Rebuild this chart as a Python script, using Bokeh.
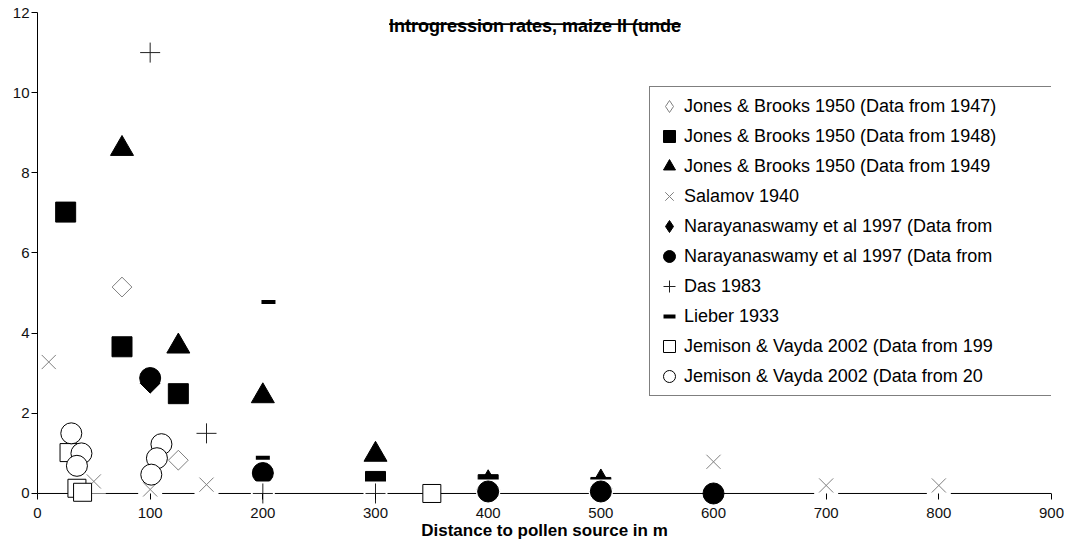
import numpy as np
from bokeh.plotting import figure
from bokeh.models import (Range1d, LinearAxis, FixedTicker, Legend, LegendItem,
                          Label, Span, BoxAnnotation)
from bokeh.embed import file_html
from bokeh.resources import INLINE

# ---------------- data ----------------
title_text = "Introgression rates, maize II (unde"
x_label = "Distance to pollen source in m"
x_ticks = [0, 100, 200, 300, 400, 500, 600, 700, 800, 900]
y_ticks = [0, 2, 4, 6, 8, 10, 12]

names = [
    "Jones & Brooks 1950 (Data from 1947)",
    "Jones & Brooks 1950 (Data from 1948)",
    "Jones & Brooks 1950 (Data from 1949",
    "Salamov 1940",
    "Narayanaswamy et al 1997 (Data from",
    "Narayanaswamy et al 1997 (Data from",
    "Das 1983",
    "Lieber 1933",
    "Jemison & Vayda 2002 (Data from 199",
    "Jemison & Vayda 2002 (Data from 20",
]

jb47_x = [75, 125]
jb47_y = [5.15, 0.83]
jb48_x = [25, 75, 125, 300, 400, 500]
jb48_y = [7.02, 3.66, 2.49, 0.30, 0.22, 0.15]
jb49_x = [75, 125, 200, 300, 400, 500]
jb49_y = [8.60, 3.67, 2.43, 0.97, 0.26, 0.28]
sal_x = [10, 50, 100, 150, 200, 400, 500, 600, 700, 800]
sal_y = [3.28, 0.30, 0.10, 0.22, 0.50, 0.05, 0.05, 0.79, 0.20, 0.20]
nar_d_x = [100, 200, 400, 500, 600]
nar_d_y = [2.75, 0.50, 0.05, 0.05, 0.00]
nar_c_x = [100, 200, 400, 500, 600]
nar_c_y = [2.88, 0.51, 0.05, 0.05, 0.00]
das_x = [100, 150, 200, 300]
das_y = [11.0, 1.5, 0.0, 0.0]
lie_x = [205, 200]
lie_y = [4.78, 0.89]
jv1_x = [28, 35, 40, 350]
jv1_y = [1.02, 0.13, 0.03, 0.00]
jv2_x = [30, 39, 35, 110, 106, 101]
jv2_y = [1.50, 1.00, 0.69, 1.23, 0.88, 0.47]

FONT = "Liberation Sans"

# ---------------- figure ----------------
p = figure(width=1064, height=542, output_backend="svg", toolbar_location=None,
           x_range=Range1d(0, 900), y_range=Range1d(-0.3, 12),
           x_axis_location=None, y_axis_location=None,
           min_border_left=37, min_border_right=13, min_border_top=12,
           min_border_bottom=36)
p.outline_line_color = None
p.grid.visible = False
p.background_fill_color = "white"
p.border_fill_color = "white"

# x axis line at y = 0 (drawn under the markers)
p.add_layout(Span(location=0, dimension="width", line_color="#000000",
                  line_width=1, level="underlay"))

xaxis = LinearAxis(ticker=FixedTicker(ticks=x_ticks), axis_line_color=None,
                   major_tick_in=12, major_tick_out=-6,
                   minor_tick_in=0, minor_tick_out=0, major_tick_line_color="#000000",
                   major_label_text_font=FONT, major_label_text_font_size="15px",
                   major_label_text_color="#111111", major_label_standoff=2,
                   axis_label=x_label, axis_label_text_font=FONT,
                   axis_label_text_font_style="bold", axis_label_text_font_size="17px",
                   axis_label_text_color="#000000", axis_label_standoff=0)
p.add_layout(xaxis, "below")

yaxis = LinearAxis(ticker=FixedTicker(ticks=y_ticks), bounds=(0, 12),
                   axis_line_color="#000000", major_tick_in=0, major_tick_out=6,
                   minor_tick_in=0, minor_tick_out=0, major_tick_line_color="#000000",
                   major_label_text_font=FONT, major_label_text_font_size="15px",
                   major_label_text_color="#111111", major_label_standoff=2)
p.add_layout(yaxis, "left")

# ---------------- series ----------------
# diamond-shaped legend keys (hidden under the plotted diamonds)
k1 = p.scatter(jb47_x, jb47_y, marker="diamond", size=19,
               fill_color="white", line_color="#808080", line_width=1)
r1 = p.scatter(jb47_x, jb47_y, marker="square", angle=np.pi / 4, size=14,
               fill_color="white", line_color="#808080", line_width=1)
r2 = p.scatter(jb48_x, jb48_y, marker="square", size=20,
               fill_color="black", line_color="black")
r3 = p.scatter(jb49_x, jb49_y, marker="triangle", size=23,
               fill_color="black", line_color="black")
p.scatter(sal_x, sal_y, marker="square", size=24, fill_color="white", line_color=None)
r4 = p.scatter(sal_x, sal_y, marker="x", size=20, line_color="#808080", line_width=1)
k5 = p.scatter(nar_d_x, nar_d_y, marker="diamond", size=19,
               fill_color="black", line_color="black")
r5 = p.scatter(nar_d_x, nar_d_y, marker="square", angle=np.pi / 4, size=14,
               fill_color="black", line_color="black")
r6 = p.scatter(nar_c_x, nar_c_y, marker="circle", size=21,
               fill_color="black", line_color="black")
p.scatter(das_x, das_y, marker="square", size=24, fill_color="white", line_color=None)
r7 = p.scatter(das_x, das_y, marker="cross", size=20, line_color="#222222", line_width=1)
r8 = p.scatter(lie_x, lie_y, marker="dash", size=14, line_color="black", line_width=4)
r9 = p.scatter(jv1_x, jv1_y, marker="square", size=18,
               fill_color="white", line_color="black", line_width=1)
r10 = p.scatter(jv2_x, jv2_y, marker="circle", size=21,
                fill_color="white", line_color="black", line_width=1)

renderers = [k1, r2, r3, r4, k5, r6, r7, r8, r9, r10]
items = [LegendItem(label=n, renderers=[r]) for n, r in zip(names, renderers)]
legend = Legend(items=items, location=(612, 109), margin=0, padding=4, spacing=0,
                glyph_width=30, glyph_height=30, label_standoff=0, label_width=380,
                label_height=20, label_text_font=FONT, label_text_font_size="18px",
                label_text_color="#000000", border_line_color="#000000",
                border_line_width=1, background_fill_color="white",
                background_fill_alpha=1.0)
p.add_layout(legend)

# ---------------- title ----------------
p.add_layout(Label(x=441.5, y=11.66, text=title_text, text_font=FONT,
                   text_font_style="bold", text_font_size="18px",
                   text_align="center", text_baseline="alphabetic",
                   text_color="#000000"))
p.add_layout(BoxAnnotation(left=312, right=571, bottom=11.69, top=11.73,
                           fill_color="#000000", fill_alpha=1.0, line_color=None))

open("out.html", "w").write(file_html(p, INLINE))
